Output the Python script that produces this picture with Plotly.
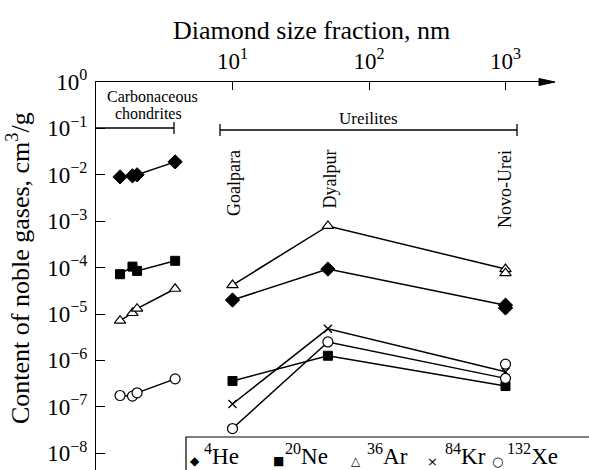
import plotly.graph_objects as go

# ---------------- data ----------------
cc_size = [1.5, 1.85, 2.0, 3.8]          # carbonaceous chondrites (plotted positions, nm)
ur_size = [10, 50, 1000]                 # ureilites: Goalpara, Dyalpur, Novo-Urei
ur_names = ["Goalpara", "Dyalpur", "Novo-Urei"]

he_cc = [9.0e-3, 9.5e-3, 1.0e-2, 1.9e-2]
ne_cc = [7.2e-5, 1.05e-4, 8.5e-5, 1.4e-4]
ar_cc = [7.2e-6, 1.05e-5, 1.3e-5, 3.5e-5]
kr_cc = [None, None, None, None]
xe_cc = [1.75e-7, 1.7e-7, 2.0e-7, 4.0e-7]

he_ur = [2.0e-5, 9.3e-5, 1.55e-5]
ne_ur = [3.6e-7, 1.26e-6, 2.8e-7]
ar_ur = [4.2e-5, 7.9e-4, 9.3e-5]
kr_ur = [1.15e-7, 4.8e-6, 5.7e-7]
xe_ur = [3.4e-8, 2.5e-6, 4.1e-7]

# second (unconnected) measurements at Novo-Urei
extra_size = [1000, 1000, 1000]
extra_vals = [1.35e-5, 7.6e-5, 8.3e-7]
extra_gas = ["He", "Ar", "Xe"]

gas_keys = ["He", "Ne", "Ar", "Kr", "Xe"]
gas_mass = ["4", "20", "36", "84", "132"]
x_tickvals = [10, 100, 1000]
x_ticktext = ["10<sup>1</sup>", "10<sup>2</sup>", "10<sup>3</sup>"]
y_tickvals = [1e0, 1e-1, 1e-2, 1e-3, 1e-4, 1e-5, 1e-6, 1e-7, 1e-8]
y_ticktext = ["10<sup>0</sup>"] + ["10<sup>\u2212%d</sup>" % i for i in range(1, 9)]

cc_data = dict(He=he_cc, Ne=ne_cc, Ar=ar_cc, Kr=kr_cc, Xe=xe_cc)
ur_data = dict(He=he_ur, Ne=ne_ur, Ar=ar_ur, Kr=kr_ur, Xe=xe_ur)

# ---------------- styles ----------------
W, H = 589, 470
L, R, T, B = 96, 35, 82, 0
PW, PH = W - L - R, H - T - B
SERIF = "Liberation Serif"

marker_style = {
    "He": dict(symbol="diamond", size=11, color="black", line=dict(color="black", width=1)),
    "Ne": dict(symbol="square", size=9, color="black", line=dict(color="black", width=1)),
    "Ar": dict(symbol="triangle-up", size=10, color="white", line=dict(color="black", width=1.2)),
    "Kr": dict(symbol="x-thin", size=8, color="black", line=dict(color="black", width=1.4)),
    "Xe": dict(symbol="circle", size=10, color="white", line=dict(color="black", width=1.2)),
}
legend_glyph = {"He": "\u25C6", "Ne": "\u25A0", "Ar": "\u25B3", "Kr": "\u00D7", "Xe": "\u25CB"}


def xp(px):
    return (px - L) / PW


def yp(py):
    return (H - B - py) / PH


fig = go.Figure()

for g in gas_keys:
    xs = list(cc_size) + [None] + list(ur_size)
    ys = list(cc_data[g]) + [None] + list(ur_data[g])
    fig.add_trace(go.Scatter(
        x=xs, y=ys, mode="lines+markers", connectgaps=False,
        line=dict(color="black", width=1.5),
        marker=marker_style[g], showlegend=False, name=g,
    ))

for xv, yv, g in zip(extra_size, extra_vals, extra_gas):
    fig.add_trace(go.Scatter(x=[xv], y=[yv], mode="markers",
                             marker=marker_style[g], showlegend=False))

fig.update_xaxes(
    type="log", side="top", range=[0, PW / 136.5],
    showline=True, linecolor="black", linewidth=1.3,
    ticks="inside", ticklen=8, tickwidth=1.3, tickcolor="black",
    tickvals=x_tickvals, ticktext=x_ticktext, ticklabelstandoff=3,
    showgrid=False, zeroline=False,
    tickfont=dict(family=SERIF, size=23, color="black"),
)
fig.update_yaxes(
    type="log", range=[-PH / 46.4, 0],
    showline=True, linecolor="black", linewidth=1.3,
    ticks="inside", ticklen=9, tickwidth=1.3, tickcolor="black",
    tickvals=y_tickvals, ticktext=y_ticktext, ticklabelstandoff=3,
    showgrid=False, zeroline=False,
    tickfont=dict(family=SERIF, size=23, color="black"),
)

shapes = []
# arrow head at end of x axis
shapes.append(dict(type="path", xref="paper", yref="paper",
                   path="M %f,%f L %f,%f L %f,%f Z" % (xp(539), yp(78.5), xp(555), yp(82), xp(539), yp(85.5)),
                   fillcolor="black", line=dict(color="black", width=1)))


def bracket(x0, x1, y, left_tick=True):
    s = [dict(type="line", xref="paper", yref="paper", x0=xp(x0), x1=xp(x1), y0=yp(y), y1=yp(y),
              line=dict(color="black", width=1.3))]
    s.append(dict(type="line", xref="paper", yref="paper", x0=xp(x1), x1=xp(x1), y0=yp(y - 6), y1=yp(y + 6),
                  line=dict(color="black", width=1.3)))
    if left_tick:
        s.append(dict(type="line", xref="paper", yref="paper", x0=xp(x0), x1=xp(x0), y0=yp(y - 6), y1=yp(y + 6),
                      line=dict(color="black", width=1.3)))
    return s


shapes += bracket(96, 174, 128, left_tick=False)
shapes += bracket(220, 517, 130)
# legend frame
shapes.append(dict(type="rect", xref="paper", yref="paper", layer="above",
                   x0=xp(186), x1=xp(620), y0=yp(490), y1=yp(437),
                   fillcolor="white", line=dict(color="black", width=1.2)))

ann = []
ann.append(dict(text="Diamond size fraction, nm", xref="paper", yref="paper",
                x=xp(311), y=yp(30), showarrow=False, xanchor="center", yanchor="middle",
                font=dict(family=SERIF, size=26, color="black")))
ann.append(dict(text="Content of noble gases, cm<sup>3</sup>/g", xref="paper", yref="paper",
                x=xp(18), y=yp(268), showarrow=False, xanchor="center", yanchor="middle",
                textangle=-90, font=dict(family=SERIF, size=26, color="black")))
ann.append(dict(text="Carbonaceous", xref="paper", yref="paper", x=xp(152), y=yp(96),
                showarrow=False, xanchor="center", yanchor="middle",
                font=dict(family=SERIF, size=16, color="black")))
ann.append(dict(text="chondrites", xref="paper", yref="paper", x=xp(148), y=yp(113),
                showarrow=False, xanchor="center", yanchor="middle",
                font=dict(family=SERIF, size=16, color="black")))
ann.append(dict(text="Ureilites", xref="paper", yref="paper", x=xp(368), y=yp(118),
                showarrow=False, xanchor="center", yanchor="middle",
                font=dict(family=SERIF, size=17, color="black")))
name_px = [234, 329, 505]
for nm, px in zip(ur_names, name_px):
    ann.append(dict(text=nm, xref="paper", yref="paper", x=xp(px), y=yp(148),
                    showarrow=False, xanchor="center", yanchor="top", textangle=-90,
                    font=dict(family=SERIF, size=18, color="black")))

# legend entries
glyph_px = [195, 278, 356, 432, 497]
label_px = [202, 283, 365, 443, 505]
glyph_size = {"He": 12, "Ne": 12, "Ar": 12, "Kr": 13, "Xe": 13}
for g, m, gx, lx in zip(gas_keys, gas_mass, glyph_px, label_px):
    ann.append(dict(text=legend_glyph[g], xref="paper", yref="paper", x=xp(gx), y=yp(461),
                    showarrow=False, xanchor="center", yanchor="middle",
                    font=dict(family="DejaVu Sans", size=glyph_size[g], color="black")))
    ann.append(dict(text="<sup>%s</sup>%s" % (m, g), xref="paper", yref="paper", x=xp(lx), y=yp(454),
                    showarrow=False, xanchor="left", yanchor="middle",
                    font=dict(family=SERIF, size=23, color="black")))

fig.update_layout(
    width=W, height=H, margin=dict(l=L, r=R, t=T, b=B, pad=0),
    plot_bgcolor="white", paper_bgcolor="white",
    shapes=shapes, annotations=ann, showlegend=False,
)

fig.write_html("out.html")
